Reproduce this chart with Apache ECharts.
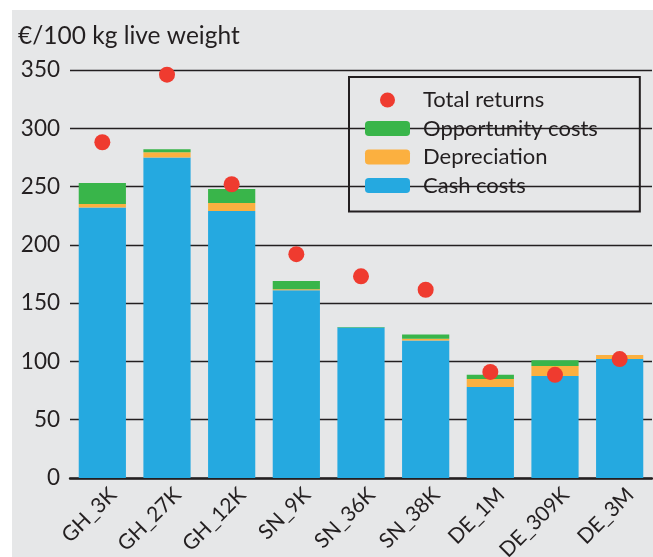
<!DOCTYPE html>
<html>
<head>
<meta charset="utf-8">
<script src="https://cdn.jsdelivr.net/npm/echarts@6/dist/echarts.min.js"></script>
<style>
  html, body { margin: 0; padding: 0; background: #fff; }
  #chart { width: 653px; height: 557px; }
</style>
</head>
<body>
<div id="chart"></div>
<script>
// farms
var farms = ["GH_3K", "GH_27K", "GH_12K", "SN_9K", "SN_36K", "SN_38K", "DE_1M", "DE_309K", "DE_3M"];
// €/100 kg live weight
var cashCosts = [232, 275, 229, 161, 129, 118, 78, 87.5, 102];
var depreciation = [3, 4.5, 7, 1, 0, 1.5, 7, 8.5, 3.5];
var opportunityCosts = [18, 2.5, 12, 7, 0.5, 3.5, 3.5, 5, 0];
var totalReturns = [288, 346, 252, 192, 173, 161.5, 91, 88.5, 102];

var font = "Lato";
var myChart = echarts.init(document.getElementById("chart"));

var option = {
  animation: false,
  textStyle: { fontFamily: font, color: "#231f20" },
  // grauer Hintergrund + Einheit
  graphic: [
    {
      type: "rect",
      z: -10,
      silent: true,
      shape: { x: 12, y: 10, width: 641, height: 547 },
      style: { fill: "#e6e7e8" }
    },
    {
      type: "text",
      left: 18,
      top: 24,
      style: { text: "€/100 kg live weight", fontSize: 24.5, fontFamily: font, fill: "#231f20" }
    }
  ],
  // Beschriftungen dürfen unten über den Rand laufen
  grid: { left: 70, right: 1, top: 70, bottom: 79, outerBoundsMode: "none", containLabel: false },
  legend: {
    left: 349,
    top: 77,
    orient: "vertical",
    data: ["Total returns", "Opportunity costs", "Depreciation", "Cash costs"],
    itemWidth: 45,
    itemHeight: 15,
    itemGap: 6.5,
    padding: [12, 42, 15, 16],
    borderColor: "#231f20",
    borderWidth: 2,
    textStyle: { fontSize: 22, fontFamily: font, color: "#231f20", padding: [0, 0, 0, 8] }
  },
  xAxis: {
    type: "category",
    data: farms,
    axisLine: { lineStyle: { color: "#231f20", width: 2.5 } },
    axisTick: { show: false },
    axisLabel: {
      rotate: 45,
      fontSize: 21,
      margin: 24,
      padding: [0, -15, 0, 0],
      color: "#231f20",
      fontFamily: font
    }
  },
  yAxis: {
    type: "value",
    min: 0,
    max: 350,
    interval: 50,
    axisLine: { show: false },
    axisTick: { show: false },
    axisLabel: { fontSize: 22.5, margin: 10, color: "#231f20", fontFamily: font },
    splitLine: { lineStyle: { color: "#231f20", width: 1.3 } }
  },
  series: [
    {
      name: "Cash costs",
      type: "bar",
      stack: "cost",
      barWidth: "73%",
      itemStyle: { color: "#25a9e0" },
      data: cashCosts
    },
    {
      name: "Depreciation",
      type: "bar",
      stack: "cost",
      itemStyle: { color: "#fbb040" },
      data: depreciation
    },
    {
      name: "Opportunity costs",
      type: "bar",
      stack: "cost",
      itemStyle: { color: "#39b54a" },
      data: opportunityCosts
    },
    {
      name: "Total returns",
      type: "scatter",
      symbol: "circle",
      symbolSize: 16,
      z: 5,
      itemStyle: { color: "#ef3b2f", opacity: 1 },
      data: totalReturns
    }
  ]
};

option && myChart.setOption(option);
</script>
</body>
</html>
